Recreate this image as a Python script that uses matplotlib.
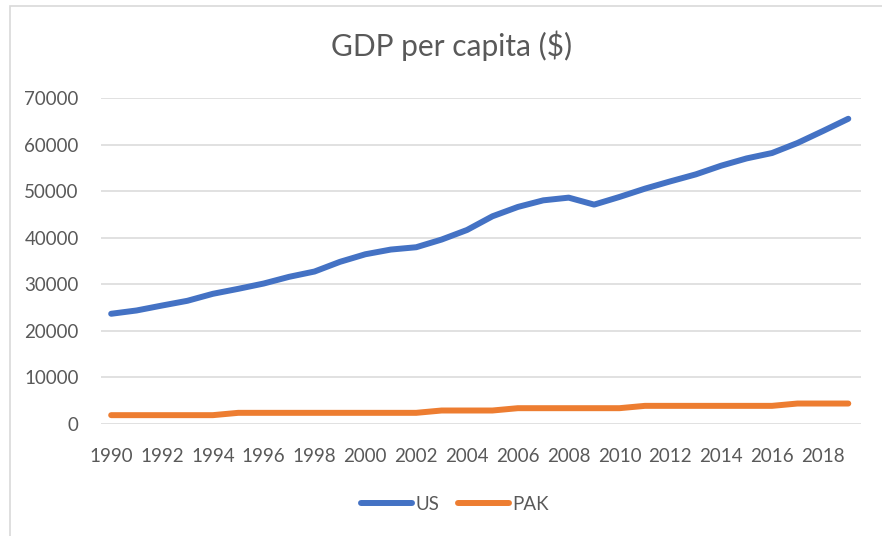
import matplotlib.pyplot as plt
from matplotlib.patches import Rectangle

# 数据：1990-2019 人均 GDP
years = list(range(1990, 2020))
us = [23690, 24400, 25460, 26480, 27980, 29050, 30190, 31630, 32770, 34850,
      36480, 37490, 37990, 39640, 41700, 44640, 46650, 48070, 48650, 47150,
      48800, 50580, 52150, 53650, 55520, 57080, 58240, 60390, 62960, 65600]
pak = [1900, 1900, 1900, 1900, 1900, 2400, 2400, 2400, 2400, 2400,
       2400, 2400, 2400, 2900, 2900, 2900, 3400, 3400, 3400, 3400,
       3400, 3900, 3900, 3900, 3900, 3900, 3900, 4400, 4400, 4400]
xtick_years = list(range(1990, 2019, 2))
yticks = list(range(0, 70001, 10000))

plt.rcParams['font.family'] = ['Lato', 'DejaVu Sans']
txt = '#595959'

fig = plt.figure(figsize=(8.82, 5.36), dpi=100)
W, H = 882, 536

# 图表外框（只露出左边和上边）
fig.patches.append(Rectangle((9.5 / W, -0.1), 1.2, 1 - 6 / H + 0.1,
                             transform=fig.transFigure, fill=False,
                             edgecolor='#D9D9D9', linewidth=1.2))

ax = fig.add_axes([101 / W, 1 - 424 / H, (861 - 101) / W, (424 - 98.3) / H])

ax.plot(years, us, color='#4472C4', lw=4.3, solid_capstyle='round',
        solid_joinstyle='round', label='US', zorder=3)
ax.plot(years, pak, color='#ED7D31', lw=4.3, solid_capstyle='round',
        solid_joinstyle='round', label='PAK', zorder=3)

ax.set_xlim(1989.6, 2019.5)
ax.set_ylim(0, 70000)
ax.set_yticks(yticks)
ax.set_yticklabels([str(v) for v in yticks])
ax.set_xticks(xtick_years)
ax.set_xticklabels([str(y) for y in xtick_years])
ax.grid(axis='y', color='#D9D9D9', lw=1.1)
ax.set_axisbelow(True)
for s in ax.spines.values():
    s.set_visible(False)
ax.tick_params(axis='both', length=0, labelsize=13.5, colors=txt)
ax.tick_params(axis='y', pad=16)
ax.tick_params(axis='x', pad=17)

fig.text(452 / W, 1 - 46 / H, 'GDP per capita ($)', ha='center', va='center',
         fontsize=21.5, color=txt)

leg = fig.legend(loc='center', bbox_to_anchor=(455 / W, 1 - 504 / H), ncol=2,
                 frameon=False, fontsize=13.5, handlelength=2.7,
                 handletextpad=0.2, columnspacing=1.0)
for t in leg.get_texts():
    t.set_color(txt)

fig.savefig('out.png', dpi=100)
